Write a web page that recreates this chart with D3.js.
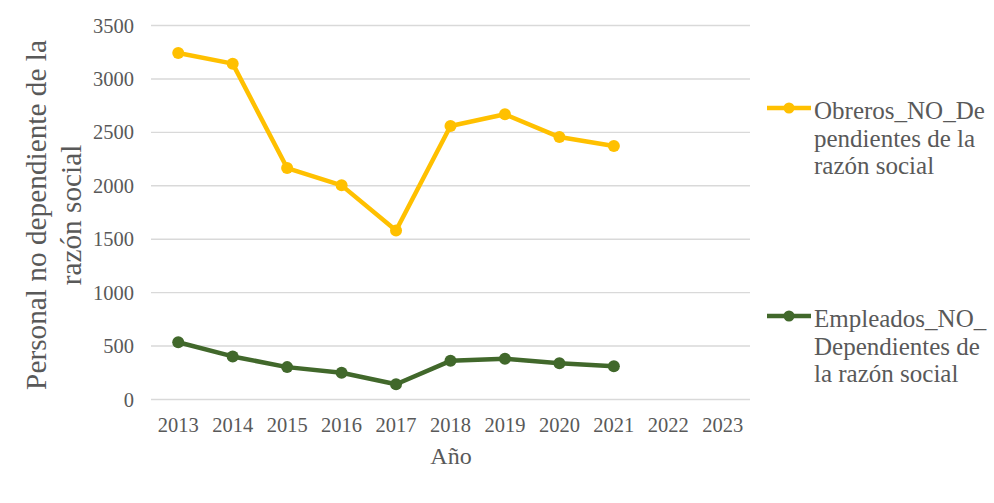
<!DOCTYPE html>
<html><head><meta charset="utf-8">
<script src="https://cdn.jsdelivr.net/npm/d3@7"></script>
<style>body{margin:0;background:#fff}svg{display:block}</style>
</head><body>
<svg id="c" width="994" height="503"></svg>
<script>
const years = ["2013","2014","2015","2016","2017","2018","2019","2020","2021","2022","2023"];
const obreros = [3243, 3143, 2166, 2004, 1582, 2559, 2669, 2456, 2372, null, null];
const empleados = [536, 403, 303, 250, 143, 362, 381, 340, 312, null, null];
const yTicks = [0, 500, 1000, 1500, 2000, 2500, 3000, 3500];
const seriesNames = [["Obreros_NO_De","pendientes de la","razón social"],["Empleados_NO_","Dependientes de","la razón social"]];
const colors = ["#FFC000", "#41682B"];

const svg = d3.select("#c");
const font = "'Liberation Serif','Times New Roman',serif";
const txt = "#595959";
const x = d3.scaleBand().domain(years).range([151, 750]);
const y = d3.scaleLinear().domain([0, 3500]).range([399.5, 25.5]);

// gridlines
svg.append("g").selectAll("line").data(yTicks).join("line")
  .attr("x1", 151).attr("x2", 750)
  .attr("y1", d => y(d)).attr("y2", d => y(d))
  .attr("stroke", "#d9d9d9").attr("stroke-width", 1.4);

// y axis labels
const ya = svg.append("g").attr("transform", "translate(134,0)")
  .call(d3.axisLeft(y).tickValues(yTicks).tickSize(0).tickPadding(0).tickFormat(d3.format("d")));
ya.select(".domain").remove();
ya.selectAll("text").attr("font-family", font).attr("font-size", 20.5).attr("fill", txt);

// x axis labels
const xa = svg.append("g").attr("transform", "translate(0,417)")
  .call(d3.axisBottom(x).tickSize(0).tickPadding(0));
xa.select(".domain").remove();
xa.selectAll("text").attr("font-family", font).attr("font-size", 20.5).attr("fill", txt);

// axis titles
svg.append("text").attr("x", 451).attr("y", 464).attr("text-anchor", "middle")
  .attr("font-family", font).attr("font-size", 24).attr("fill", txt).text("Año");
const yt = svg.append("text").attr("transform", "translate(0,215) rotate(-90)")
  .attr("text-anchor", "middle").attr("font-family", font).attr("font-size", 29.3).attr("fill", txt);
yt.append("tspan").attr("x", 0).attr("y", 45.5).text("Personal no dependiente de la");
yt.append("tspan").attr("x", 0).attr("y", 81).text("razón social");

// lines
const cx = d => x(d) + x.bandwidth() / 2;
[obreros, empleados].forEach((vals, i) => {
  const data = years.map((yr, j) => ({yr, v: vals[j]})).filter(d => d.v != null);
  svg.append("path").datum(data)
    .attr("d", d3.line().x(d => cx(d.yr)).y(d => y(d.v)))
    .attr("fill", "none").attr("stroke", colors[i]).attr("stroke-width", 4.5)
    .attr("stroke-linejoin", "round").attr("stroke-linecap", "round");
  svg.append("g").selectAll("circle").data(data).join("circle")
    .attr("cx", d => cx(d.yr)).attr("cy", d => y(d.v)).attr("r", 6)
    .attr("fill", colors[i]);
});

// legend
const legY = [108, 316];
seriesNames.forEach((lines, i) => {
  const g = svg.append("g").attr("transform", `translate(0,${legY[i]})`);
  g.append("line").attr("x1", 767).attr("x2", 811).attr("y1", 0).attr("y2", 0)
    .attr("stroke", colors[i]).attr("stroke-width", 4.5);
  g.append("circle").attr("cx", 789).attr("cy", 0).attr("r", 5.5).attr("fill", colors[i]);
  const t = g.append("text").attr("font-family", font).attr("font-size", 25).attr("fill", txt);
  lines.forEach((l, k) => t.append("tspan").attr("x", 814).attr("y", 11 + k * 27.5).text(l));
});
</script>
</body></html>
